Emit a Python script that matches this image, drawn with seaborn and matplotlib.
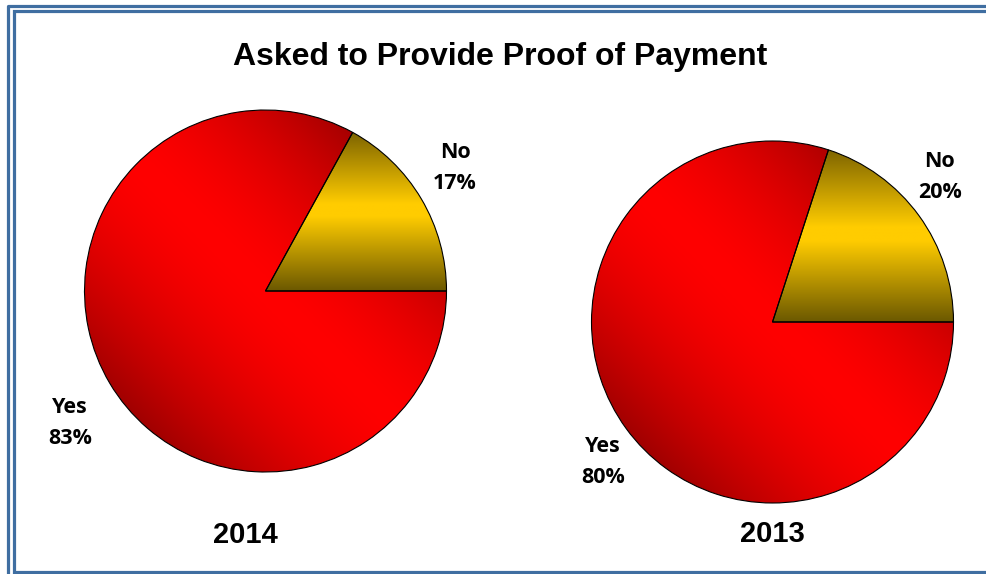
"""
Pie chart: Asked to Provide Proof of Payment (2014 vs 2013).
Jalankan: python plot.py  -> out.png
"""

import numpy as np
import matplotlib.pyplot as plt
import seaborn as sns
from matplotlib.colors import LinearSegmentedColormap

# ---------- data ----------
title = "Asked to Provide Proof of Payment"
categories = ["No", "Yes"]
years = ["2014", "2013"]
share_no = [17, 20]
share_yes = [83, 80]

# ---------- layout (pixel coords, y down) ----------
W, H = 986, 574
pie_centers = [(265.5, 291), (772.5, 322)]
pie_radius = 181
no_label_pos = [(455, 168), (940, 177)]
yes_label_pos = [(70, 423), (603, 462)]
year_label_pos = [(245, 535), (772, 534)]

sns.set_theme(style="white")
plt.rcParams["font.family"] = ["Liberation Sans", "DejaVu Sans"]

gold_cmap = LinearSegmentedColormap.from_list(
    "gold", [(0.0, "#6b5800"), (0.47, "#ffcc00"), (0.55, "#ffcc00"), (1.0, "#7d6400")]
)
LABEL_FONT = dict(family=["Open Sans", "DejaVu Sans"], fontweight="bold", fontsize=15.5,
                  linespacing=1.6, color="black", ha="center", va="center")


def yv(y):
    return H - y


def gradient_red():
    n = 300
    xs = np.linspace(-1, 1, n)
    X, Y = np.meshgrid(xs, xs)
    t = (X + Y) / np.sqrt(2)
    val = 1 - 0.37 * np.abs(t) ** 1.6
    img = np.zeros((n, n, 3))
    img[..., 0] = np.clip(val, 0, 1)
    return img


def main():
    fig = plt.figure(figsize=(W / 100, H / 100), dpi=100)
    ax = fig.add_axes([0, 0, 1, 1])

    for i, year in enumerate(years):
        cx, cy = pie_centers[i][0], yv(pie_centers[i][1])
        values = [share_no[i], share_yes[i]]
        wedges, _ = ax.pie(
            values,
            startangle=0,
            counterclock=True,
            center=(cx, cy),
            radius=pie_radius,
            colors=["#ffcc00", "#ff0000"],
            wedgeprops=dict(edgecolor="black", linewidth=0.8),
        )

        # slice "No": gradasi vertikal emas
        w_no = wedges[0]
        top = cy + pie_radius * np.sin(np.deg2rad(w_no.theta2))
        grad = np.linspace(0, 1, 256).reshape(-1, 1)
        im = ax.imshow(grad, cmap=gold_cmap, origin="lower", aspect="auto",
                       extent=(cx, cx + pie_radius, cy, top), zorder=2)
        im.set_clip_path(w_no)

        # slice "Yes": gradasi diagonal merah
        w_yes = wedges[1]
        im2 = ax.imshow(gradient_red(), origin="lower", aspect="auto",
                        extent=(cx - pie_radius, cx + pie_radius,
                                cy - pie_radius, cy + pie_radius),
                        zorder=2)
        im2.set_clip_path(w_yes)

        for w in wedges:
            w.set_facecolor("none")
            w.set_zorder(3)

        nx, ny = no_label_pos[i]
        ax.text(nx, yv(ny), f"{categories[0]}\n{share_no[i]}%", **LABEL_FONT)
        yx, yy = yes_label_pos[i]
        ax.text(yx, yv(yy), f"{categories[1]}\n{share_yes[i]}%", **LABEL_FONT)
        lx, ly = year_label_pos[i]
        ax.text(lx, yv(ly), year, ha="center", va="center",
                fontweight="bold", fontsize=21, color="black")

    ax.text(500, yv(57), title, ha="center", va="center",
            fontweight="bold", fontsize=23, color="black")

    # garis tepi ganda biru (terpotong di kanan & bawah)
    border = "#3f6ea1"
    lw = 2.3
    ax.plot([8, 8, W + 5], [yv(H + 5), yv(5.5), yv(5.5)], color=border, lw=lw,
            solid_joinstyle="round", zorder=5)
    ax.plot([W + 5, 13.5, 13.5, W + 5], [yv(10.5), yv(10.5), yv(572), yv(572)],
            color=border, lw=lw, solid_joinstyle="miter", zorder=5)

    ax.set_xlim(0, W)
    ax.set_ylim(0, H)
    ax.set_aspect("equal")
    ax.set_axis_off()

    fig.savefig("out.png", dpi=100)
    plt.close(fig)


if __name__ == "__main__":
    main()
